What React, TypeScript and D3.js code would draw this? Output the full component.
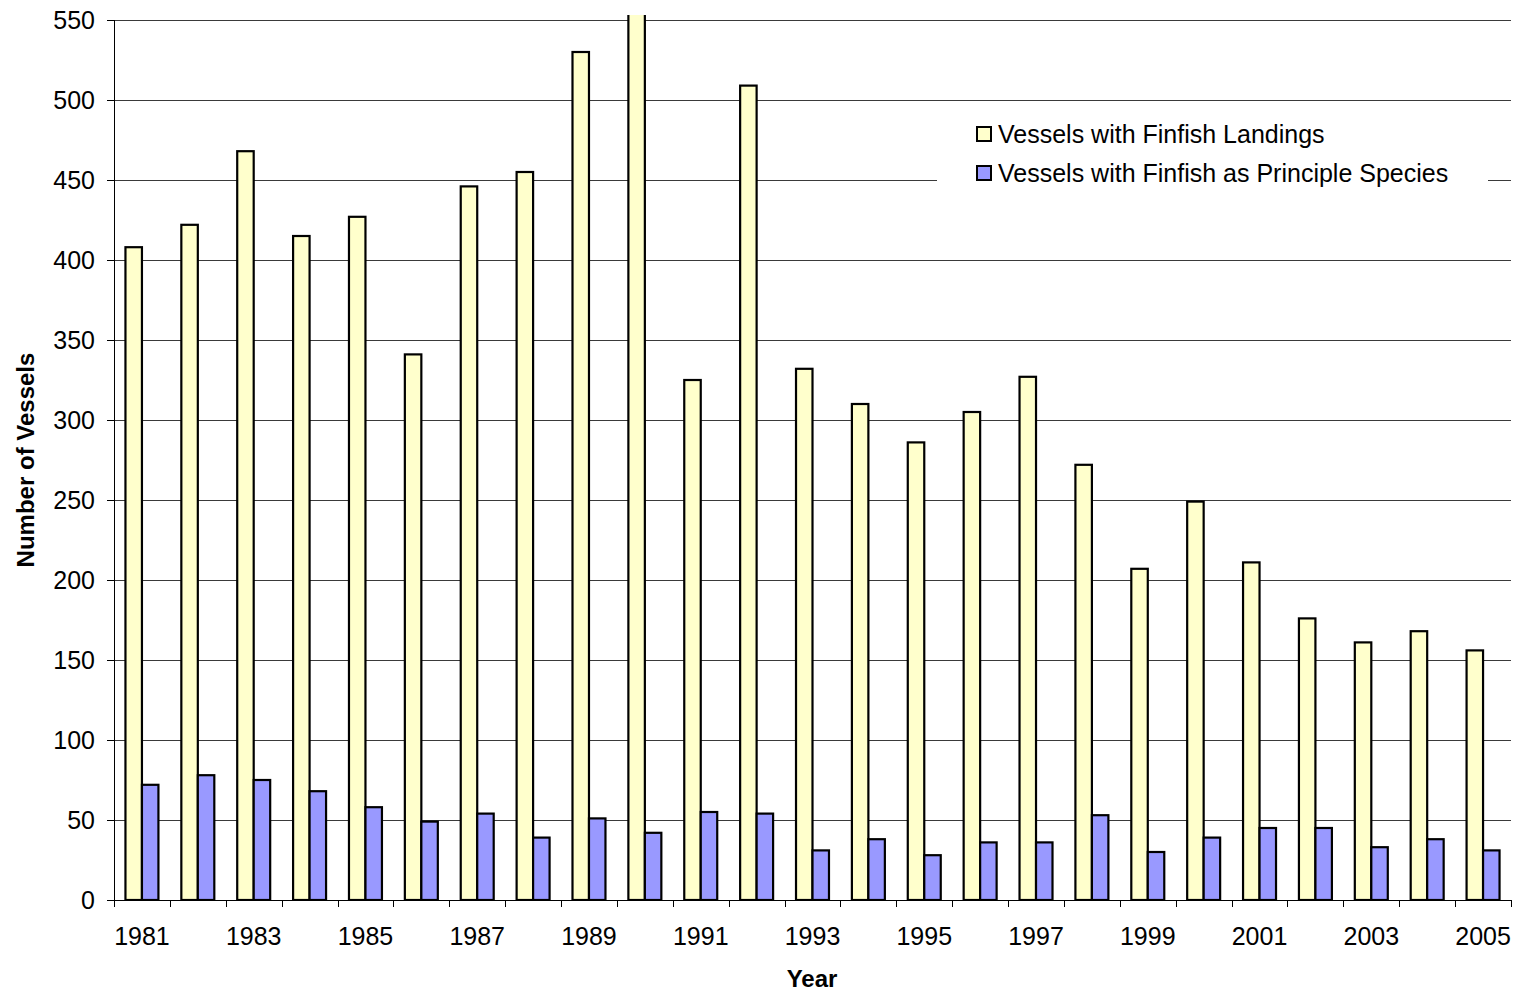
import React from 'react'
import * as d3 from 'd3'

const years = [
  '1981', '1982', '1983', '1984', '1985', '1986', '1987', '1988', '1989', '1990',
  '1991', '1992', '1993', '1994', '1995', '1996', '1997', '1998', '1999', '2000',
  '2001', '2002', '2003', '2004', '2005'
]
const finfishLandings = [
  408, 422, 468, 415, 427, 341, 446, 455, 530, 565,
  325, 509, 332, 310, 286, 305, 327, 272, 207, 249,
  211, 176, 161, 168, 156
]
const finfishPrinciple = [
  72, 78, 75, 68, 58, 49, 54, 39, 51, 42,
  55, 54, 31, 38, 28, 36, 36, 53, 30, 39,
  45, 45, 33, 38, 31
]
const seriesNames = ['Vessels with Finfish Landings', 'Vessels with Finfish as Principle Species']
const seriesColors = ['#FFFFCC', '#9999FF']
const yTicks = [0, 50, 100, 150, 200, 250, 300, 350, 400, 450, 500, 550]

const W = 1515
const H = 993
const margin = { top: 20, right: 4, bottom: 93, left: 114 }
const font = 'Arial, "Liberation Sans", sans-serif'

const App = () => {
  const x = d3
    .scaleBand()
    .domain(years)
    .range([margin.left, W - margin.right])
    .paddingInner(0.41)
    .paddingOuter(0.205)
  const xs = d3.scaleBand().domain(['0', '1']).range([0, x.bandwidth()])
  const y = d3.scaleLinear().domain([0, 550]).range([H - margin.bottom, margin.top])
  const step = x.step()
  const x0 = margin.left
  const x1 = W - margin.right
  const y0 = y(0)

  const series = [finfishLandings, finfishPrinciple]

  return (
    <div style={{ position: 'absolute', left: 0, top: 0 }}>
      <svg width={W} height={H} style={{ display: 'block', background: '#fff' }} fontFamily={font}>
        <defs>
          <clipPath id="plot-clip">
            <rect x={x0} y={y(550) - 5} width={x1 - x0} height={y0 - y(550) + 5} />
          </clipPath>
        </defs>

        {/* gridlines */}
        {yTicks.slice(1).map((t) => (
          <line key={t} x1={x0} x2={x1} y1={y(t) + 0.5} y2={y(t) + 0.5} stroke="#3a3a3a" strokeWidth={1} />
        ))}

        {/* legend background covers a gridline */}
        <rect x={937} y={112} width={551} height={84} fill="#fff" />

        {/* bars */}
        <g clipPath="url(#plot-clip)">
          {series.map((vals, si) =>
            years.map((yr, i) => (
              <rect
                key={`${si}-${yr}`}
                x={(x(yr) ?? 0) + (xs(String(si)) ?? 0)}
                y={y(vals[i])}
                width={xs.bandwidth()}
                height={y0 - y(vals[i])}
                fill={seriesColors[si]}
                stroke="#000"
                strokeWidth={2.2}
              />
            ))
          )}
        </g>

        {/* axes */}
        <line x1={x0 + 0.5} x2={x0 + 0.5} y1={y(550)} y2={y0} stroke="#000" strokeWidth={1} />
        <line x1={x0} x2={x1} y1={y0 + 0.5} y2={y0 + 0.5} stroke="#000" strokeWidth={1} />
        {yTicks.map((t) => (
          <g key={t}>
            <line x1={x0 - 7} x2={x0} y1={y(t) + 0.5} y2={y(t) + 0.5} stroke="#000" />
            <text x={x0 - 19} y={y(t)} dy="0.36em" textAnchor="end" fontSize={25} fill="#000">
              {t}
            </text>
          </g>
        ))}
        {d3.range(years.length + 1).map((i) => (
          <line
            key={i}
            x1={Math.round(x0 + i * step) + 0.5}
            x2={Math.round(x0 + i * step) + 0.5}
            y1={y0}
            y2={y0 + 7}
            stroke="#000"
          />
        ))}
        {years.map((yr, i) =>
          i % 2 === 0 ? (
            <text
              key={yr}
              x={(x(yr) ?? 0) + x.bandwidth() / 2}
              y={945}
              textAnchor="middle"
              fontSize={25}
              fill="#000"
            >
              {yr}
            </text>
          ) : null
        )}

        {/* axis titles */}
        <text x={812} y={987} textAnchor="middle" fontSize={24} fontWeight="bold">
          Year
        </text>
        <text
          transform={`translate(34, ${(y(550) + y0) / 2}) rotate(-90)`}
          textAnchor="middle"
          fontSize={24}
          fontWeight="bold"
        >
          Number of Vessels
        </text>

        {/* legend */}
        {seriesNames.map((name, i) => (
          <g key={name} transform={`translate(977, ${127 + i * 39})`}>
            <rect x={0} y={0} width={14} height={14} fill={seriesColors[i]} stroke="#000" strokeWidth={2} />
            <text x={21} y={7} dy="0.36em" fontSize={25} fill="#000">
              {name}
            </text>
          </g>
        ))}
      </svg>
    </div>
  )
}

export default App
